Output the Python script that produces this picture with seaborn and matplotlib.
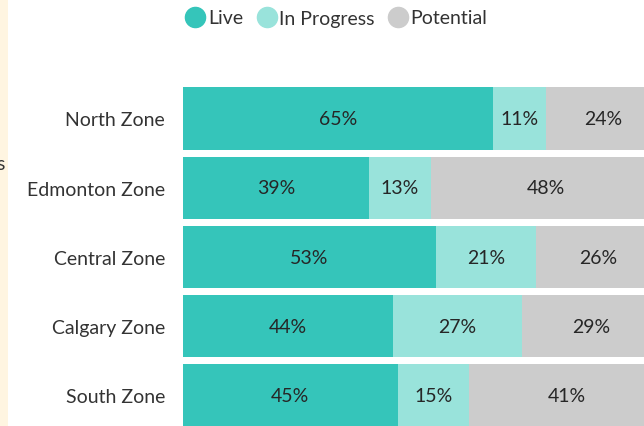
import matplotlib
matplotlib.use("Agg")
import matplotlib.pyplot as plt
from matplotlib.patches import Rectangle
from matplotlib.lines import Line2D
import seaborn as sns
import pandas as pd
import numpy as np

zones = ["North Zone", "Edmonton Zone", "Central Zone", "Calgary Zone", "South Zone"]
live = [65, 39, 53, 44, 45]
in_progress = [11, 13, 21, 27, 15]
potential = [24, 48, 26, 29, 41]
series_names = ["Live", "In Progress", "Potential"]
colors = ["#35C5BA", "#99E3DB", "#CCCCCC"]

sns.set_theme(style="white")
plt.rcParams["font.family"] = ["Lato", "DejaVu Sans"]

W, H = 644, 427
fig = plt.figure(figsize=(W / 100, H / 100), dpi=100)
fig.patch.set_facecolor("white")

# axes geometry in pixels: x 0..100 maps 183..660, bar pitch ~69.25
pitch = 69.25
top_px = 119.5 - pitch / 2
bot_px = 396.5 + pitch / 2
ax = fig.add_axes([183 / W, 1 - bot_px / H, 477 / W, (bot_px - top_px) / H])

df = pd.DataFrame({"zone": zones, "Live": live, "In Progress": in_progress, "Potential": potential})
df["c1"] = df["Live"]
df["c2"] = df["Live"] + df["In Progress"]
df["c3"] = df["c2"] + df["Potential"]

for col, c in zip(["c3", "c2", "c1"], colors[::-1]):
    sns.barplot(data=df, y="zone", x=col, order=zones, color=c, orient="y",
                width=0.9, ax=ax, saturation=1, linewidth=0, edgecolor="none")

ax.set_xlim(0, 100)
ax.set_ylim(4.5, -0.5)
ax.set_xlabel("")
ax.set_ylabel("")
ax.set_xticks([])
for s in ax.spines.values():
    s.set_visible(False)
ax.tick_params(axis="y", length=0, pad=13, labelsize=14, labelcolor="#333333")

for i in range(len(zones)):
    starts = [0, live[i], live[i] + in_progress[i]]
    vals = [live[i], in_progress[i], potential[i]]
    for s0, v in zip(starts, vals):
        ax.text(s0 + v / 2, i, f"{v}%", ha="center", va="center",
                fontsize=14, color="#262626")

# legend
handles = [Line2D([0], [0], marker="o", linestyle="none", markersize=14.5,
                  markerfacecolor=c, markeredgecolor=c) for c in colors]
fig.legend(handles, series_names, loc="center left", bbox_to_anchor=(176 / W, 1 - 19 / H),
           ncol=3, frameon=False, handletextpad=0.05, columnspacing=0.6,
           fontsize=14, labelcolor="#333333", borderaxespad=0, handlelength=1.2)

# left strip from neighbouring panel
fig.patches.append(Rectangle((0, 0), 8 / W, 1, transform=fig.transFigure,
                             facecolor="#FFF5E1", edgecolor="none"))
fig.text(-4 / W, 1 - 165 / H, "s", fontsize=14, color="#333333", va="center", ha="left")

fig.savefig("out.png", dpi=100)
